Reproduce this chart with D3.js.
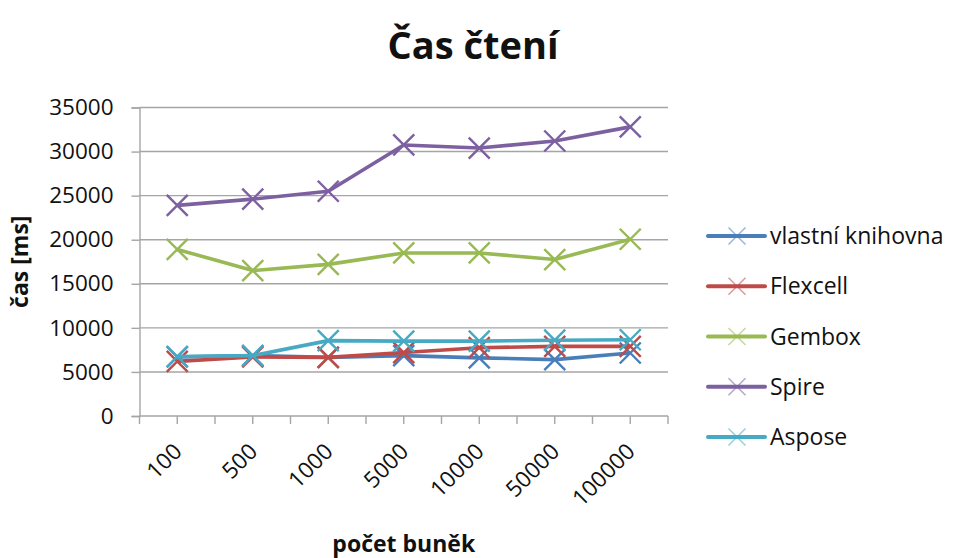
<!DOCTYPE html>
<html>
<head>
<meta charset="utf-8">
<script src="https://cdn.jsdelivr.net/npm/d3@7"></script>
<style>
  body { margin: 0; background: #fff; }
  svg text { font-family: "Open Sans", "Noto Sans", sans-serif; fill: #111; }
</style>
</head>
<body>
<svg id="chart" width="956" height="558"></svg>
<script>
// Chart data
const categories = ["100", "500", "1000", "5000", "10000", "50000", "100000"];
const seriesNames = ["vlastní knihovna", "Flexcell", "Gembox", "Spire", "Aspose"];
const vlastni = [6700, 6850, 6650, 6850, 6600, 6400, 7150];
const flexcell = [6200, 6700, 6650, 7200, 7750, 7900, 7900];
const gembox = [18900, 16500, 17200, 18500, 18500, 17750, 20050];
const spire = [23900, 24600, 25500, 30750, 30400, 31200, 32800];
const aspose = [6750, 6850, 8550, 8500, 8500, 8600, 8650];
const yTicks = [0, 5000, 10000, 15000, 20000, 25000, 30000, 35000];
const colors = ["#4A7EBB", "#BE4B48", "#98B954", "#7D60A0", "#46AAC5"];

/** Class drawing the line chart. */
class LineChart {
  constructor(svg) {
    this.svg = svg;
    // plot area
    this.plot = { left: 139.5, right: 668, top: 107.5, bottom: 416 };

    this.series = [vlastni, flexcell, gembox, spire, aspose].map((values, i) => ({
      name: seriesNames[i],
      color: colors[i],
      values: values
    }));

    this.xScale = d3.scaleBand()
      .domain(categories)
      .range([this.plot.left, this.plot.right])
      .padding(0);

    this.yScale = d3.scaleLinear()
      .domain([0, 35000])
      .range([this.plot.bottom, this.plot.top]);
  }

  drawAxes() {
    let x = this.xScale, y = this.yScale, p = this.plot;
    let grid = "#A5A5A5";

    // horizontal gridlines
    this.svg.append("g")
      .selectAll("line")
      .data(yTicks.filter(d => d > 0))
      .enter()
      .append("line")
      .attr("x1", p.left).attr("x2", p.right)
      .attr("y1", d => y(d)).attr("y2", d => y(d))
      .attr("stroke", grid)
      .attr("stroke-width", 1.4);

    // y axis
    let yAxis = d3.axisLeft(y)
      .tickValues(yTicks)
      .tickSize(8)
      .tickPadding(18)
      .tickFormat(d => d);

    let gy = this.svg.append("g")
      .attr("transform", `translate(${p.left},0)`)
      .call(yAxis);
    gy.select(".domain").attr("stroke", grid).attr("stroke-width", 1.4);
    gy.selectAll(".tick line").attr("stroke", grid).attr("stroke-width", 1.4);
    gy.selectAll("text")
      .style("font-size", "22.5px")
      .attr("fill", "#111");

    // x axis: ticks at band edges and centres
    let half = x.bandwidth() / 2;
    let xTickPos = [];
    categories.forEach(c => { xTickPos.push(x(c)); xTickPos.push(x(c) + half); });
    xTickPos.push(p.right);

    let gx = this.svg.append("g");
    gx.append("line")
      .attr("x1", p.left).attr("x2", p.right)
      .attr("y1", p.bottom).attr("y2", p.bottom)
      .attr("stroke", grid).attr("stroke-width", 1.4);
    gx.selectAll(".xtick")
      .data(xTickPos)
      .enter()
      .append("line")
      .attr("class", "xtick")
      .attr("x1", d => d).attr("x2", d => d)
      .attr("y1", p.bottom).attr("y2", p.bottom + 8)
      .attr("stroke", grid).attr("stroke-width", 1.4);

    gx.selectAll("text")
      .data(categories)
      .enter()
      .append("text")
      .attr("text-anchor", "end")
      .attr("transform", d => `translate(${x(d) + half + 6},${p.bottom + 37}) rotate(-45)`)
      .style("font-size", "22.5px")
      .text(d => d);

    // axis titles
    this.svg.append("text")
      .attr("text-anchor", "middle")
      .attr("transform", `translate(28,${(p.top + p.bottom) / 2}) rotate(-90)`)
      .style("font-size", "23px")
      .style("font-weight", "bold")
      .text("čas [ms]");

    this.svg.append("text")
      .attr("text-anchor", "middle")
      .attr("x", (p.left + p.right) / 2)
      .attr("y", 552)
      .style("font-size", "23px")
      .style("font-weight", "bold")
      .text("počet buněk");

    // title
    this.svg.append("text")
      .attr("text-anchor", "middle")
      .attr("x", 473)
      .attr("y", 59)
      .style("font-size", "38px")
      .style("font-weight", "bold")
      .attr("fill", "#000")
      .text("Čas čtení");
  }

  crossPath(cx, cy, r) {
    return `M${cx - r},${cy - r}L${cx + r},${cy + r}M${cx - r},${cy + r}L${cx + r},${cy - r}`;
  }

  drawSeries() {
    let x = this.xScale, y = this.yScale;
    let half = x.bandwidth() / 2;

    let line = d3.line()
      .x((d, i) => x(categories[i]) + half)
      .y(d => y(d));

    let g = this.svg.append("g").selectAll("g")
      .data(this.series)
      .enter()
      .append("g");

    g.append("path")
      .attr("d", d => line(d.values))
      .attr("fill", "none")
      .attr("stroke", d => d.color)
      .attr("stroke-width", 3.6)
      .attr("stroke-linejoin", "round");

    g.each((s, i, nodes) => {
      d3.select(nodes[i]).selectAll(".marker")
        .data(s.values)
        .enter()
        .append("path")
        .attr("class", "marker")
        .attr("d", (d, j) => this.crossPath(x(categories[j]) + half, y(d), 10.5))
        .attr("stroke", s.color)
        .attr("stroke-width", 2.4)
        .attr("fill", "none");
    });
  }

  drawLegend() {
    let rowY = d3.scaleLinear().domain([0, 4]).range([236, 437]);

    let items = this.svg.append("g").selectAll("g")
      .data(this.series)
      .enter()
      .append("g")
      .attr("transform", (d, i) => `translate(0,${rowY(i)})`);

    items.append("line")
      .attr("x1", 708).attr("x2", 765)
      .attr("stroke", d => d.color)
      .attr("stroke-width", 4)
      .attr("stroke-linecap", "round");

    items.append("path")
      .attr("d", this.crossPath(737, 0, 8.5))
      .attr("stroke", d => d.color)
      .attr("stroke-opacity", 0.55)
      .attr("stroke-width", 1.6)
      .attr("fill", "none");

    items.append("text")
      .attr("x", 770)
      .attr("y", 8)
      .style("font-size", "23px")
      .text(d => d.name);
  }
}

let chart = new LineChart(d3.select("#chart"));
chart.drawAxes();
chart.drawSeries();
chart.drawLegend();
</script>
</body>
</html>
